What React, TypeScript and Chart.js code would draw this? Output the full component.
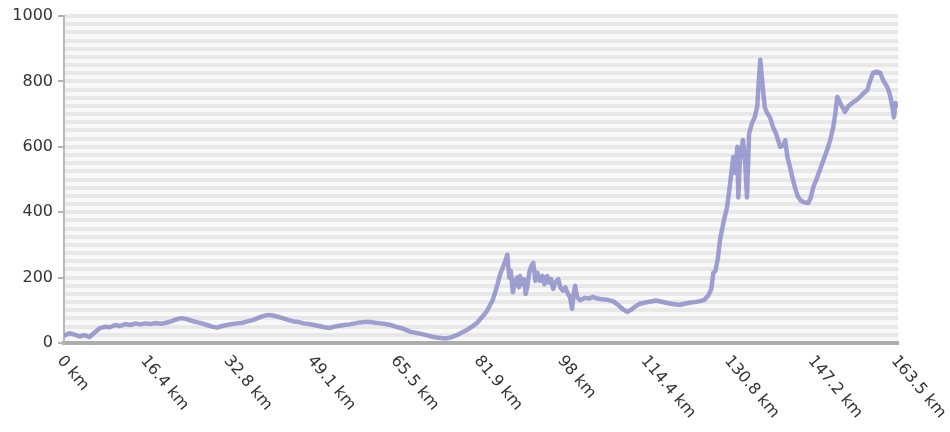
import React, { useEffect, useRef } from 'react';
import { Chart, registerables } from 'chart.js';
Chart.register(...registerables);

const distanceKm: number[] = [
  0, 1, 2, 3, 4, 5, 6, 7, 8, 9, 10, 11, 12, 13, 14, 15, 16, 17, 18, 19,
  20, 21, 22, 23, 24, 25, 26, 27, 28, 29, 30, 31, 32, 33, 34, 35, 36, 37, 38, 39,
  40, 41, 42, 43, 44, 45, 46, 47, 48, 49, 50, 51, 52, 53, 54, 55, 56, 57, 58, 59,
  60, 61, 62, 63, 64, 65, 66, 67, 68, 69, 70, 71, 72, 73, 74, 75, 76, 77, 78, 79,
  80, 81, 82, 83, 84, 84.5, 85, 85.5, 86, 86.5, 86.9, 87.3, 87.6, 88, 88.4, 88.8, 89.2, 89.4, 89.8,
  90.2, 90.5, 90.8, 91.2, 91.6, 92, 92.4, 92.8, 93.3, 93.8, 94.2, 94.7, 95.1, 95.5, 95.9, 96.3, 96.9,
  97.3, 97.8, 98.3, 98.8, 99.2, 99.6, 99.9, 100.2, 100.6, 101.2, 102, 103, 103.7, 104.5, 105.5, 106.5,
  107.6, 108.5, 109.5, 110.4, 111.2, 112, 112.9, 114, 115, 116, 117, 118, 119, 120, 120.8, 121.7,
  122.6, 123.6, 124.7, 125.5, 126.3, 126.9, 127.3, 127.7, 128.2, 128.6, 129.3, 130, 130.6, 131.2,
  131.6, 132, 132.2, 132.5, 133.1, 133.5, 133.9, 134.3, 134.9, 135.4, 135.9, 136.2, 136.5, 137,
  137.4, 137.8, 138.4, 139, 139.6, 140.4, 141, 141.4, 141.8, 142.3, 142.9, 143.4, 143.9, 144.5,
  145.2, 145.9, 146.4, 146.9, 147.5, 148.2, 148.9, 149.6, 150.2, 150.8, 151.2, 151.6, 152.3, 153.1,
  153.8, 154.6, 155.5, 156.5, 157.5, 158, 158.6, 159.3, 160, 160.7, 161.4, 161.9, 162.4, 162.7, 163, 163.5,
];

const elevationM: number[] = [
  22, 30, 26, 20, 24, 18, 32, 45, 50, 48, 55, 52, 58, 55, 60, 57, 60, 58, 61, 59,
  62, 66, 72, 76, 73, 68, 64, 60, 55, 50, 47, 52, 55, 58, 60, 62, 66, 70, 76, 82,
  86, 84, 80, 75, 70, 66, 64, 60, 58, 55, 52, 48, 46, 50, 53, 55, 57, 60, 63, 64,
  64, 62, 60, 58, 55, 50, 46, 40, 34, 31, 28, 24, 20, 17, 15, 14, 18, 24, 32, 40,
  50, 62, 80, 100, 130, 153, 180, 210, 230, 250, 270, 200, 220, 155, 185, 200, 170, 205, 180,
  195, 150, 170, 215, 235, 245, 190, 215, 190, 205, 180, 205, 185, 195, 165, 185, 195,
  170, 160, 170, 150, 140, 105, 150, 175, 140, 131, 138, 136, 141, 136, 134, 132,
  128, 118, 104, 95, 102, 112, 120, 124, 127, 130, 127, 123, 120, 118, 117, 120,
  123, 125, 128, 132, 145, 165, 215, 220, 260, 315, 370, 416, 490, 569,
  520, 600, 445, 560, 621, 560, 445, 640, 673, 690, 722, 800, 866, 780,
  720, 705, 690, 660, 640, 600, 605, 620, 570, 540, 500, 470, 447, 435,
  430, 428, 445, 477, 500, 530, 560, 590, 620, 660, 700, 753, 730, 707,
  725, 735, 744, 760, 774, 800, 826, 830, 826, 800, 783, 760, 722, 690, 734, 720,
];

const xTickValues: number[] = [0, 16.35, 32.7, 49.05, 65.4, 81.75, 98.1, 114.45, 130.8, 147.15, 163.5];
const xTickLabels: string[] = ['0 km', '16.4 km', '32.8 km', '49.1 km', '65.5 km', '81.9 km', '98 km', '114.4 km', '130.8 km', '147.2 km', '163.5 km'];
const yLabelStep = 200;
const yGridStep = 25;
const yMin = 0;
const yMax = 1000;

export default function App() {
  const canvasRef = useRef<HTMLCanvasElement | null>(null);

  useEffect(() => {
    document.body.style.margin = '0';
    const canvas = canvasRef.current;
    if (!canvas) return;

    const plotBg = {
      id: 'plotBg',
      beforeDraw(chart: any) {
        const { ctx, chartArea } = chart;
        ctx.save();
        ctx.fillStyle = '#f8f8f8';
        ctx.fillRect(chartArea.left, chartArea.top, chartArea.right - chartArea.left, chartArea.bottom - chartArea.top);
        ctx.restore();
      },
    };

    const xLabels = {
      id: 'xLabels',
      afterDraw(chart: any) {
        const { ctx } = chart;
        const x = chart.scales.x;
        ctx.save();
        ctx.font = '16px "DejaVu Sans"';
        ctx.fillStyle = '#333333';
        ctx.textAlign = 'left';
        ctx.textBaseline = 'middle';
        xTickValues.forEach((v, i) => {
          const px = x.getPixelForValue(v);
          ctx.save();
          ctx.translate(px - 4, x.top + 15);
          ctx.rotate((50 * Math.PI) / 180);
          ctx.fillText(xTickLabels[i], 0, 0);
          ctx.restore();
        });
        ctx.restore();
      },
    };

    const chart = new Chart(canvas, {
      type: 'line',
      data: {
        datasets: [
          {
            data: distanceKm.map((d, i) => ({ x: d, y: elevationM[i] })),
            borderColor: 'rgba(130,130,198,0.75)',
            borderWidth: 4.5,
            borderJoinStyle: 'round',
            pointRadius: 0,
            tension: 0,
            fill: false,
          },
        ],
      },
      options: {
        animation: false,
        responsive: true,
        maintainAspectRatio: false,
        layout: { padding: { left: 0, right: 52, top: 16, bottom: 0 } },
        plugins: { legend: { display: false }, tooltip: { enabled: false } },
        scales: {
          x: {
            type: 'linear',
            min: 0,
            max: 163.5,
            ticks: { display: false },
            grid: { display: false, drawTicks: false },
            border: { display: true, color: '#adadad', width: 4 },
            afterFit(scale: any) {
              scale.height = 89;
            },
          },
          y: {
            type: 'linear',
            min: yMin,
            max: yMax,
            ticks: {
              stepSize: yGridStep,
              autoSkip: false,
              padding: 5,
              color: '#333333',
              font: { family: '"DejaVu Sans"', size: 16 },
              callback: (v: any) => (Number(v) % yLabelStep === 0 ? String(v) : ''),
            },
            grid: {
              color: '#e8e8e8',
              lineWidth: 4,
              tickLength: 6,
              tickWidth: 1.5,
              tickColor: (ctx: any) => (ctx.tick && ctx.tick.value % yLabelStep === 0 ? '#999999' : 'rgba(0,0,0,0)'),
            },
            border: { display: true, color: '#b8b8b8', width: 2 },
            afterFit(scale: any) {
              scale.width = 64;
            },
          },
        },
      },
      plugins: [plotBg, xLabels],
    });

    return () => chart.destroy();
  }, []);

  return (
    <div style={{ width: 950, height: 432, position: 'relative' }}>
      <canvas ref={canvasRef} />
    </div>
  );
}
